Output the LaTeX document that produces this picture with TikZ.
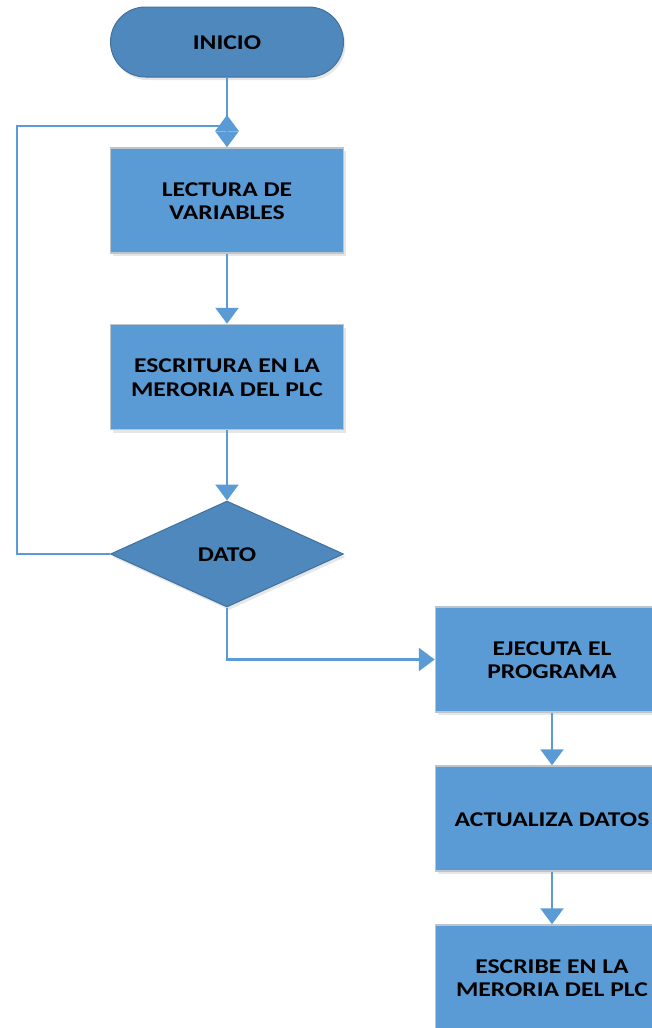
\documentclass[tikz,border=0pt]{standalone}
\usepackage{fontspec}
\setmainfont{Carlito}
\usetikzlibrary{arrows.meta,shapes.geometric,shadows}
\definecolor{boxblue}{HTML}{5B9BD5}
\definecolor{darkblue}{HTML}{4E88BC}
\definecolor{edgeblue}{HTML}{41719C}
\definecolor{edgegray}{HTML}{BCC4CE}
\definecolor{lineblue}{HTML}{5B9BD5}
\newcommand{\lbl}[1]{\raisebox{-3pt}[\height][\depth]{\scalebox{1.22}[1]{\bfseries\begin{tabular}{@{}c@{}}#1\end{tabular}}}}
\begin{document}
\begin{tikzpicture}[x=1pt,y=-1pt,
  txt/.style={font=\fontsize{21}{23.5}\selectfont},
  proc/.style={txt, draw=edgegray, line width=1.5pt, fill=boxblue, minimum width=233pt, minimum height=105pt, inner sep=0pt,
    drop shadow={opacity=0.2, shadow xshift=2pt, shadow yshift=-3pt}},
  term/.style={txt, draw=edgeblue, line width=1pt, fill=darkblue, rounded corners=35pt, minimum width=233pt, minimum height=70pt, inner sep=0pt,
    drop shadow={opacity=0.2, shadow xshift=2pt, shadow yshift=-3pt}},
  decis/.style={txt, diamond, draw=edgeblue, line width=1pt, fill=darkblue, minimum width=233pt, minimum height=106pt, inner sep=0pt,
    drop shadow={opacity=0.2, shadow xshift=2pt, shadow yshift=-3pt}},
  conn/.style={draw=lineblue, line width=2.6pt},
  arr/.style={conn, -{Triangle[width=23pt,length=16pt]}}]
\useasboundingbox (0,0) rectangle (652,1028);
\node[term] (inicio) at (227,42) {\lbl{INICIO}};
\node[proc] (b1) at (227,200.5) {\lbl{LECTURA DE\\VARIABLES}};
\node[proc] (b2) at (227,377) {\lbl{ESCRITURA EN LA\\MERORIA DEL PLC}};
\node[decis] (dato) at (227,554) {\lbl{DATO}};
\node[proc] (b3) at (552,659.5) {\lbl{EJECUTA EL\\PROGRAMA}};
\node[proc] (b4) at (552,818.5) {\lbl{ACTUALIZA DATOS}};
\node[proc] (b5) at (552,977.5) {\lbl{ESCRIBE EN LA\\MERORIA DEL PLC}};
\coordinate (lt) at (17,126);
\coordinate (jn) at (227,131);
\coordinate (jt) at (227,115);
\draw[conn] (dato.west) -| (lt) -- (lt -| jn);
\draw[arr] (jn) -- (jt);
\draw[arr] (inicio) -- (b1);
\draw[arr] (b1) -- (b2);
\draw[arr] (b2) -- (dato);
\draw[arr] (dato.south) |- (b3.west);
\draw[arr] (b3) -- (b4);
\draw[arr] (b4) -- (b5);
\end{tikzpicture}
\end{document}
